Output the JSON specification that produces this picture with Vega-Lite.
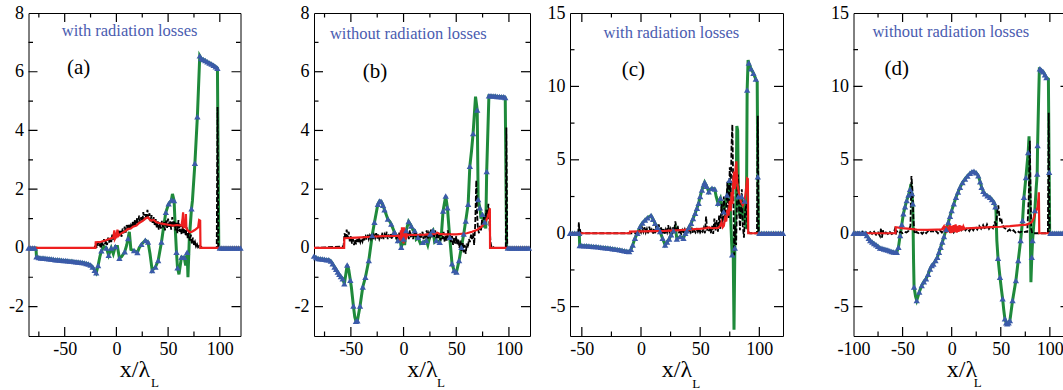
{
"$schema":"https://vega.github.io/schema/vega-lite/v6.json",
"background":"white",
"padding":{"left":7.5,"top":3,"right":0,"bottom":0},
"datasets":{
"tab_x":[{"v":-75,"m":0},{"v":-50,"m":1},{"v":-25,"m":0},{"v":0,"m":1},{"v":25,"m":0},{"v":50,"m":1},{"v":75,"m":0},{"v":100,"m":1}],
"tab_y":[{"v":-2,"m":1},{"v":-1,"m":0},{"v":0,"m":1},{"v":1,"m":0},{"v":2,"m":1},{"v":3,"m":0},{"v":4,"m":1},{"v":5,"m":0},{"v":6,"m":1},{"v":7,"m":0}],
"tc_x":[{"v":-50,"m":1},{"v":-25,"m":0},{"v":0,"m":1},{"v":25,"m":0},{"v":50,"m":1},{"v":75,"m":0},{"v":100,"m":1}],
"tcd_y":[{"v":-5,"m":1},{"v":-2.5,"m":0},{"v":0,"m":1},{"v":2.5,"m":0},{"v":5,"m":1},{"v":7.5,"m":0},{"v":10,"m":1},{"v":12.5,"m":0}],
"ag":[{"x":-85,"y":0,"t":1},{"x":-83,"y":0,"t":1},{"x":-81,"y":0,"t":1},{"x":-79,"y":0,"t":1},{"x":-77.8,"y":0,"t":0},{"x":-77.3,"y":-0.3,"t":1},{"x":-75,"y":-0.33,"t":1},{"x":-73,"y":-0.34,"t":1},{"x":-71,"y":-0.34,"t":1},{"x":-69,"y":-0.35,"t":1},{"x":-67,"y":-0.36,"t":1},{"x":-65,"y":-0.37,"t":1},{"x":-63,"y":-0.38,"t":1},{"x":-61,"y":-0.39,"t":1},{"x":-59,"y":-0.4,"t":1},{"x":-57,"y":-0.4,"t":1},{"x":-55,"y":-0.41,"t":1},{"x":-53,"y":-0.42,"t":1},{"x":-51,"y":-0.43,"t":1},{"x":-49,"y":-0.43,"t":1},{"x":-47,"y":-0.44,"t":1},{"x":-45,"y":-0.45,"t":1},{"x":-43,"y":-0.45,"t":1},{"x":-41,"y":-0.46,"t":1},{"x":-39,"y":-0.47,"t":1},{"x":-37,"y":-0.48,"t":1},{"x":-35,"y":-0.49,"t":1},{"x":-33,"y":-0.5,"t":1},{"x":-31,"y":-0.51,"t":1},{"x":-29,"y":-0.53,"t":1},{"x":-27,"y":-0.55,"t":1},{"x":-25,"y":-0.58,"t":1},{"x":-23,"y":-0.65,"t":1},{"x":-21,"y":-0.76,"t":1},{"x":-19.5,"y":-0.85,"t":1},{"x":-17.7,"y":-0.6,"t":1},{"x":-16,"y":-0.3,"t":0},{"x":-14.5,"y":-0.1,"t":1},{"x":-12,"y":0.05,"t":0},{"x":-9.7,"y":0,"t":1},{"x":-7.5,"y":-0.25,"t":1},{"x":-5,"y":0,"t":1},{"x":-3,"y":-0.2,"t":0},{"x":-1,"y":0.05,"t":1},{"x":1,"y":0.05,"t":0},{"x":2.9,"y":-0.35,"t":1},{"x":5,"y":-0.3,"t":0},{"x":8.1,"y":-0.13,"t":1},{"x":10,"y":0.1,"t":0},{"x":11.3,"y":0.32,"t":1},{"x":12.5,"y":0.55,"t":0},{"x":14,"y":-0.05,"t":0},{"x":17.1,"y":-0.09,"t":1},{"x":20.3,"y":-0.16,"t":1},{"x":22,"y":0,"t":0},{"x":24.2,"y":0.12,"t":1},{"x":28,"y":0.26,"t":1},{"x":30.6,"y":0.2,"t":1},{"x":32.5,"y":-0.2,"t":0},{"x":34.6,"y":-0.77,"t":1},{"x":37.8,"y":-0.65,"t":1},{"x":40.4,"y":-0.43,"t":1},{"x":43.6,"y":0.2,"t":1},{"x":46,"y":0.8,"t":0},{"x":47.8,"y":1.21,"t":1},{"x":50.5,"y":1.5,"t":1},{"x":53.2,"y":1.63,"t":1},{"x":54.2,"y":1.84,"t":0},{"x":55.8,"y":1.61,"t":1},{"x":57,"y":0.6,"t":0},{"x":58.1,"y":-0.15,"t":1},{"x":59.1,"y":-0.68,"t":1},{"x":60.5,"y":-0.9,"t":0},{"x":62.9,"y":-0.32,"t":1},{"x":65.5,"y":-0.32,"t":1},{"x":67,"y":-0.6,"t":0},{"x":68.4,"y":-0.15,"t":1},{"x":69.2,"y":-1.0,"t":0},{"x":70.5,"y":0.3,"t":0},{"x":72.6,"y":1.33,"t":1},{"x":73.5,"y":1.6,"t":0},{"x":75.9,"y":2.88,"t":1},{"x":78.3,"y":4.47,"t":1},{"x":80.6,"y":6.54,"t":1},{"x":82,"y":6.45,"t":1},{"x":84,"y":6.42,"t":1},{"x":86,"y":6.38,"t":1},{"x":88,"y":6.34,"t":1},{"x":90,"y":6.3,"t":1},{"x":92,"y":6.26,"t":1},{"x":94,"y":6.22,"t":1},{"x":96,"y":6.17,"t":1},{"x":97.7,"y":6.12,"t":1},{"x":99,"y":0,"t":0},{"x":100,"y":0,"t":1},{"x":102,"y":0,"t":1},{"x":104,"y":0,"t":1},{"x":106,"y":0,"t":1},{"x":108,"y":0,"t":1},{"x":110,"y":0,"t":1},{"x":112,"y":0,"t":1},{"x":114,"y":0,"t":1},{"x":116,"y":0,"t":1},{"x":118,"y":0,"t":1},{"x":120,"y":0,"t":1}],
"ak":[{"x":-85,"y":0},{"x":-22,"y":0},{"x":-21,"y":0.02},{"x":-20,"y":0.15},{"x":-19,"y":0},{"x":-18,"y":0.18},{"x":-17,"y":0.06},{"x":-16,"y":0.12},{"x":-15,"y":-0.02},{"x":-14,"y":0.22},{"x":-13,"y":0.08},{"x":-12,"y":0.3},{"x":-11,"y":0.12},{"x":-10,"y":0.25},{"x":-9,"y":0.1},{"x":-8,"y":0.35},{"x":-7,"y":0.18},{"x":-6,"y":0.32},{"x":-5,"y":0.2},{"x":-4,"y":0.45},{"x":-3,"y":0.28},{"x":-2,"y":0.5},{"x":-1,"y":0.3},{"x":0,"y":0.55},{"x":1,"y":0.36},{"x":2,"y":0.62},{"x":3,"y":0.4},{"x":4,"y":0.58},{"x":5,"y":0.38},{"x":6,"y":0.66},{"x":7,"y":0.5},{"x":8,"y":0.72},{"x":9,"y":0.52},{"x":10,"y":0.78},{"x":11,"y":0.6},{"x":12,"y":0.82},{"x":13,"y":0.62},{"x":14,"y":0.76},{"x":15,"y":0.66},{"x":16,"y":0.92},{"x":17,"y":0.72},{"x":18,"y":0.98},{"x":19,"y":0.78},{"x":20,"y":1.02},{"x":21,"y":0.84},{"x":22,"y":1.1},{"x":23,"y":0.88},{"x":24,"y":1.05},{"x":25,"y":0.9},{"x":26,"y":1.22},{"x":27,"y":0.95},{"x":28,"y":1.15},{"x":29,"y":0.98},{"x":30,"y":1.3},{"x":31,"y":1.0},{"x":32,"y":1.18},{"x":33,"y":0.9},{"x":34,"y":1.12},{"x":35,"y":0.85},{"x":36,"y":1.05},{"x":37,"y":0.78},{"x":38,"y":0.98},{"x":39,"y":0.7},{"x":40,"y":0.9},{"x":41,"y":0.62},{"x":42,"y":0.85},{"x":43,"y":0.66},{"x":44,"y":0.92},{"x":45,"y":0.7},{"x":46,"y":0.88},{"x":47,"y":0.6},{"x":48,"y":0.95},{"x":49,"y":0.68},{"x":50,"y":1.0},{"x":51,"y":0.72},{"x":52,"y":0.9},{"x":53,"y":0.62},{"x":54,"y":1.05},{"x":55,"y":0.7},{"x":56,"y":0.92},{"x":57,"y":0.6},{"x":58,"y":0.85},{"x":59,"y":0.5},{"x":60,"y":0.95},{"x":61,"y":0.55},{"x":62,"y":0.8},{"x":63,"y":0.45},{"x":64,"y":0.75},{"x":65,"y":0.5},{"x":66,"y":0.9},{"x":67,"y":0.4},{"x":68,"y":0.7},{"x":69,"y":0.3},{"x":70,"y":0.6},{"x":71,"y":0.25},{"x":72,"y":0.45},{"x":73,"y":0.15},{"x":74,"y":0.35},{"x":75,"y":0.1},{"x":76,"y":0.2},{"x":77,"y":0.05},{"x":78,"y":0.12},{"x":79,"y":0.02},{"x":80,"y":0.06},{"x":81,"y":0},{"x":82,"y":0.03},{"x":83,"y":0},{"x":97,"y":0},{"x":97.8,"y":4.8},{"x":98.6,"y":0},{"x":120,"y":0}],
"ar":[{"x":-85,"y":0},{"x":-20.2,"y":0},{"x":-20,"y":0.19},{"x":-15,"y":0.21},{"x":-10,"y":0.26},{"x":-6.5,"y":0.31},{"x":-3,"y":0.35},{"x":-2,"y":0.6},{"x":-1.5,"y":0.3},{"x":0,"y":0.4},{"x":1,"y":0.62},{"x":1.8,"y":0.4},{"x":4,"y":0.48},{"x":6.5,"y":0.53},{"x":9,"y":0.58},{"x":11.3,"y":0.65},{"x":14,"y":0.66},{"x":16,"y":0.72},{"x":19.4,"y":0.76},{"x":22,"y":0.85},{"x":25.8,"y":0.93},{"x":28,"y":1.0},{"x":30.6,"y":1.04},{"x":32,"y":0.97},{"x":33.9,"y":0.93},{"x":36,"y":0.95},{"x":38.7,"y":0.87},{"x":42,"y":0.84},{"x":45.2,"y":0.82},{"x":50,"y":0.79},{"x":54.8,"y":0.76},{"x":58,"y":0.78},{"x":62.9,"y":0.76},{"x":64,"y":1.0},{"x":64.5,"y":1.21},{"x":65,"y":0.7},{"x":66.5,"y":0.72},{"x":67.2,"y":1.15},{"x":67.7,"y":0.65},{"x":69,"y":0.6},{"x":71,"y":0.53},{"x":73,"y":0.55},{"x":75.8,"y":0.61},{"x":79,"y":0.7},{"x":80,"y":0.95},{"x":81,"y":0.93},{"x":81.3,"y":0},{"x":120,"y":0}],
"bg":[{"x":-85,"y":-0.28,"t":1},{"x":-83,"y":-0.33,"t":1},{"x":-81,"y":-0.36,"t":1},{"x":-79,"y":-0.37,"t":1},{"x":-77,"y":-0.38,"t":1},{"x":-75,"y":-0.39,"t":1},{"x":-73,"y":-0.4,"t":1},{"x":-71,"y":-0.4,"t":1},{"x":-69,"y":-0.45,"t":1},{"x":-67.3,"y":-0.54,"t":1},{"x":-65.5,"y":-0.65,"t":1},{"x":-64,"y":-0.73,"t":1},{"x":-62.5,"y":-0.82,"t":1},{"x":-61,"y":-0.9,"t":1},{"x":-59.5,"y":-0.97,"t":1},{"x":-57.8,"y":-1.05,"t":1},{"x":-56.2,"y":-1.22,"t":1},{"x":-54.8,"y":-0.9,"t":0},{"x":-53.5,"y":-0.58,"t":1},{"x":-52,"y":-0.75,"t":0},{"x":-50.5,"y":-1.1,"t":1},{"x":-49.5,"y":-1.35,"t":0},{"x":-47.6,"y":-1.98,"t":1},{"x":-46.3,"y":-2.35,"t":0},{"x":-45.2,"y":-2.5,"t":1},{"x":-43.8,"y":-2.48,"t":1},{"x":-41.3,"y":-1.98,"t":1},{"x":-38.7,"y":-1.33,"t":1},{"x":-36.2,"y":-1.0,"t":1},{"x":-33,"y":-0.43,"t":1},{"x":-31,"y":0.1,"t":0},{"x":-29.8,"y":0.42,"t":1},{"x":-27.6,"y":0.87,"t":1},{"x":-24.4,"y":1.49,"t":1},{"x":-22.7,"y":1.6,"t":1},{"x":-21.2,"y":1.58,"t":1},{"x":-19.5,"y":1.45,"t":1},{"x":-18.1,"y":1.3,"t":1},{"x":-14.9,"y":0.98,"t":1},{"x":-13,"y":0.9,"t":0},{"x":-11.7,"y":0.81,"t":1},{"x":-8.6,"y":0.53,"t":1},{"x":-5.4,"y":0.25,"t":1},{"x":-3.5,"y":0.35,"t":0},{"x":-2.2,"y":0.02,"t":1},{"x":0,"y":0.3,"t":1},{"x":1,"y":0.1,"t":0},{"x":2.5,"y":0.59,"t":1},{"x":4.8,"y":0.9,"t":1},{"x":7.3,"y":0.75,"t":1},{"x":9,"y":0.6,"t":0},{"x":10.5,"y":0.59,"t":1},{"x":12,"y":0.3,"t":0},{"x":13.7,"y":0.36,"t":1},{"x":16,"y":0.15,"t":0},{"x":18.4,"y":0.19,"t":1},{"x":21.6,"y":0.25,"t":1},{"x":23,"y":0.1,"t":0},{"x":25.4,"y":0.47,"t":1},{"x":27.9,"y":0.59,"t":1},{"x":29.5,"y":0.2,"t":0},{"x":31.1,"y":0.25,"t":1},{"x":34.3,"y":0.19,"t":1},{"x":36,"y":0.5,"t":0},{"x":37.5,"y":1.26,"t":1},{"x":40,"y":1.77,"t":1},{"x":41.6,"y":1.37,"t":1},{"x":43.8,"y":0.36,"t":1},{"x":46,"y":-0.54,"t":1},{"x":47.9,"y":-0.77,"t":1},{"x":49,"y":-0.85,"t":0},{"x":50.2,"y":-0.82,"t":1},{"x":52.7,"y":-0.43,"t":1},{"x":54.9,"y":0.02,"t":1},{"x":57.1,"y":0.47,"t":1},{"x":59,"y":0.92,"t":1},{"x":61.3,"y":1.49,"t":1},{"x":62.9,"y":2.78,"t":1},{"x":64.5,"y":3.3,"t":0},{"x":66,"y":3.9,"t":1},{"x":68.3,"y":5.15,"t":0},{"x":69.9,"y":4.7,"t":1},{"x":70.8,"y":1.65,"t":1},{"x":72.4,"y":1.37,"t":1},{"x":73.5,"y":1.0,"t":0},{"x":74.9,"y":1.15,"t":1},{"x":76,"y":0.7,"t":0},{"x":77.1,"y":0.88,"t":1},{"x":78,"y":0.66,"t":0},{"x":78.9,"y":2.6,"t":1},{"x":81,"y":5.18,"t":1},{"x":83,"y":5.18,"t":1},{"x":85,"y":5.17,"t":1},{"x":87,"y":5.17,"t":1},{"x":89,"y":5.16,"t":1},{"x":91,"y":5.16,"t":1},{"x":93,"y":5.15,"t":1},{"x":95,"y":5.15,"t":1},{"x":96.5,"y":5.12,"t":1},{"x":97.8,"y":0,"t":0},{"x":99,"y":0,"t":1},{"x":101,"y":0,"t":1},{"x":103,"y":0,"t":1},{"x":105,"y":0,"t":1},{"x":107,"y":0,"t":1},{"x":109,"y":0,"t":1},{"x":111,"y":0,"t":1},{"x":113,"y":0,"t":1},{"x":115,"y":0,"t":1},{"x":117,"y":0,"t":1},{"x":119,"y":0,"t":1}],
"bk":[{"x":-85,"y":0},{"x":-57,"y":0.05},{"x":-56,"y":0.5},{"x":-55,"y":0.3},{"x":-54,"y":0.62},{"x":-53,"y":0.35},{"x":-52,"y":0.55},{"x":-51,"y":0.2},{"x":-50,"y":0.4},{"x":-49,"y":0.15},{"x":-48,"y":0.3},{"x":-47,"y":0.1},{"x":-46,"y":0.28},{"x":-45,"y":0.12},{"x":-44,"y":0.3},{"x":-43,"y":0.18},{"x":-42,"y":0.35},{"x":-41,"y":0.2},{"x":-40,"y":0.32},{"x":-39,"y":0.22},{"x":-38,"y":0.4},{"x":-37,"y":0.25},{"x":-36,"y":0.38},{"x":-35,"y":0.28},{"x":-34,"y":0.45},{"x":-33,"y":0.3},{"x":-32,"y":0.42},{"x":-31,"y":0.32},{"x":-30,"y":0.48},{"x":-29,"y":0.3},{"x":-28,"y":0.44},{"x":-27,"y":0.34},{"x":-26,"y":0.5},{"x":-25,"y":0.32},{"x":-24,"y":0.46},{"x":-23,"y":0.3},{"x":-22,"y":0.4},{"x":-21,"y":0.36},{"x":-20,"y":0.52},{"x":-19,"y":0.3},{"x":-18,"y":0.45},{"x":-17,"y":0.35},{"x":-16,"y":0.55},{"x":-15,"y":0.3},{"x":-14,"y":0.42},{"x":-13,"y":0.38},{"x":-12,"y":0.5},{"x":-11,"y":0.3},{"x":-10,"y":0.45},{"x":-9,"y":0.35},{"x":-8,"y":0.58},{"x":-7,"y":0.3},{"x":-6,"y":0.48},{"x":-5,"y":0.32},{"x":-4,"y":0.52},{"x":-3,"y":0.28},{"x":-2,"y":0.45},{"x":-1,"y":0.3},{"x":0,"y":0.5},{"x":1,"y":0.32},{"x":2,"y":0.55},{"x":3,"y":0.38},{"x":4,"y":0.5},{"x":5,"y":0.3},{"x":6,"y":0.6},{"x":7,"y":0.35},{"x":8,"y":0.48},{"x":9,"y":0.3},{"x":10,"y":0.55},{"x":11,"y":0.36},{"x":12,"y":0.5},{"x":13,"y":0.3},{"x":14,"y":0.45},{"x":15,"y":0.28},{"x":16,"y":0.5},{"x":17,"y":0.35},{"x":18,"y":0.55},{"x":19,"y":0.3},{"x":20,"y":0.46},{"x":21,"y":0.38},{"x":22,"y":0.6},{"x":23,"y":0.32},{"x":24,"y":0.5},{"x":25,"y":0.4},{"x":26,"y":0.62},{"x":27,"y":0.35},{"x":28,"y":0.52},{"x":29,"y":0.38},{"x":30,"y":0.6},{"x":31,"y":0.32},{"x":32,"y":0.5},{"x":33,"y":0.3},{"x":34,"y":0.45},{"x":35,"y":0.25},{"x":36,"y":0.5},{"x":37,"y":0.3},{"x":38,"y":0.55},{"x":39,"y":0.2},{"x":40,"y":0.45},{"x":41,"y":0.25},{"x":42,"y":0.6},{"x":43,"y":0.3},{"x":44,"y":0.5},{"x":45,"y":0.2},{"x":46,"y":0.4},{"x":47,"y":0.1},{"x":48,"y":0.35},{"x":49,"y":0.15},{"x":50,"y":0.4},{"x":51,"y":0.1},{"x":52,"y":0.3},{"x":53,"y":0},{"x":54,"y":0.25},{"x":55,"y":-0.1},{"x":56,"y":0.2},{"x":57,"y":-0.15},{"x":58,"y":0.1},{"x":59,"y":-0.2},{"x":60,"y":0.15},{"x":61,"y":0},{"x":62,"y":0.3},{"x":63,"y":0.2},{"x":64,"y":0.45},{"x":65,"y":0.3},{"x":66,"y":0.5},{"x":67,"y":0.1},{"x":68,"y":0.8},{"x":69,"y":2.3},{"x":69.8,"y":1.2},{"x":70.5,"y":0.7},{"x":71.5,"y":0.5},{"x":72.5,"y":0.75},{"x":73.5,"y":0.6},{"x":74.5,"y":0.95},{"x":75.5,"y":0.8},{"x":76.5,"y":1.1},{"x":77.5,"y":0.9},{"x":78.5,"y":1.3},{"x":79.5,"y":1.0},{"x":80.5,"y":1.5},{"x":81.5,"y":0.8},{"x":82.5,"y":0.2},{"x":83.5,"y":0.02},{"x":84.5,"y":0.05},{"x":86,"y":0},{"x":97,"y":0},{"x":97.6,"y":4.1},{"x":98.4,"y":0},{"x":120,"y":0}],
"br":[{"x":-85,"y":0},{"x":-56.4,"y":0},{"x":-56.2,"y":0.33},{"x":-50,"y":0.34},{"x":-40,"y":0.36},{"x":-30,"y":0.38},{"x":-20,"y":0.4},{"x":-10,"y":0.41},{"x":-5,"y":0.42},{"x":-3,"y":0.25},{"x":-2.5,"y":0.6},{"x":-2,"y":0.3},{"x":-1.5,"y":0.7},{"x":-1,"y":0.2},{"x":-0.5,"y":0.65},{"x":0,"y":0.15},{"x":0.5,"y":0.7},{"x":1,"y":0.25},{"x":1.5,"y":0.6},{"x":2,"y":0.3},{"x":2.5,"y":0.55},{"x":3,"y":0.38},{"x":4,"y":0.45},{"x":10,"y":0.44},{"x":20,"y":0.45},{"x":30,"y":0.48},{"x":32,"y":0.52},{"x":34,"y":0.48},{"x":40,"y":0.46},{"x":50,"y":0.46},{"x":60,"y":0.5},{"x":65,"y":0.55},{"x":70,"y":0.62},{"x":74,"y":0.72},{"x":77,"y":0.85},{"x":79.5,"y":1.02},{"x":81,"y":1.2},{"x":81.9,"y":1.35},{"x":82.1,"y":0},{"x":120,"y":0}],
"cg":[{"x":-60,"y":0,"t":1},{"x":-58,"y":0,"t":1},{"x":-56,"y":0,"t":1},{"x":-54,"y":0,"t":1},{"x":-52.2,"y":0,"t":1},{"x":-51.8,"y":-0.84,"t":1},{"x":-50,"y":-0.84,"t":1},{"x":-48,"y":-0.85,"t":1},{"x":-46,"y":-0.86,"t":1},{"x":-44,"y":-0.87,"t":1},{"x":-42,"y":-0.88,"t":1},{"x":-40,"y":-0.9,"t":1},{"x":-38,"y":-0.91,"t":1},{"x":-36,"y":-0.93,"t":1},{"x":-34,"y":-0.95,"t":1},{"x":-32,"y":-0.97,"t":1},{"x":-30,"y":-0.99,"t":1},{"x":-28,"y":-1.01,"t":1},{"x":-26,"y":-1.03,"t":1},{"x":-24,"y":-1.05,"t":1},{"x":-22,"y":-1.07,"t":1},{"x":-20,"y":-1.1,"t":1},{"x":-18,"y":-1.13,"t":1},{"x":-16,"y":-1.16,"t":1},{"x":-14,"y":-1.2,"t":1},{"x":-12,"y":-1.22,"t":1},{"x":-10,"y":-1.24,"t":1},{"x":-8.5,"y":-1.1,"t":1},{"x":-7,"y":-0.8,"t":1},{"x":-5.1,"y":-0.34,"t":1},{"x":-3,"y":0,"t":1},{"x":-0.8,"y":0.45,"t":1},{"x":1.2,"y":0.7,"t":1},{"x":3.4,"y":0.9,"t":1},{"x":5.5,"y":1.05,"t":1},{"x":8.5,"y":1.2,"t":1},{"x":10.2,"y":0.95,"t":1},{"x":11.9,"y":0.68,"t":1},{"x":14,"y":0.4,"t":1},{"x":16.1,"y":0.11,"t":1},{"x":18.2,"y":-0.35,"t":1},{"x":20.4,"y":-0.8,"t":1},{"x":22,"y":-0.6,"t":1},{"x":23.8,"y":-0.39,"t":1},{"x":25.5,"y":-0.1,"t":1},{"x":27.4,"y":0.16,"t":1},{"x":29,"y":0.4,"t":0},{"x":30.3,"y":-0.39,"t":1},{"x":33.1,"y":-0.23,"t":1},{"x":35.9,"y":-0.34,"t":1},{"x":37.5,"y":0,"t":1},{"x":38.8,"y":0.16,"t":1},{"x":40.5,"y":0.4,"t":1},{"x":42.4,"y":0.68,"t":1},{"x":44,"y":1.0,"t":1},{"x":45.8,"y":1.36,"t":1},{"x":47.3,"y":1.7,"t":1},{"x":48.7,"y":2.04,"t":1},{"x":50,"y":2.5,"t":1},{"x":51.5,"y":2.95,"t":1},{"x":53,"y":3.3,"t":1},{"x":53.8,"y":3.47,"t":1},{"x":55.5,"y":3.2,"t":1},{"x":57.2,"y":2.83,"t":1},{"x":58.5,"y":3.0,"t":0},{"x":60,"y":3.06,"t":1},{"x":62.3,"y":3.02,"t":1},{"x":63.5,"y":2.5,"t":0},{"x":65.1,"y":2.04,"t":1},{"x":67.1,"y":2.38,"t":1},{"x":68.5,"y":1.8,"t":0},{"x":69.9,"y":1.47,"t":1},{"x":71,"y":2.0,"t":0},{"x":72.7,"y":2.6,"t":1},{"x":74.7,"y":3.6,"t":1},{"x":75.8,"y":1.0,"t":0},{"x":77,"y":-1.47,"t":1},{"x":77.8,"y":-0.3,"t":0},{"x":78.6,"y":-6.57,"t":0},{"x":79.3,"y":-1.0,"t":1},{"x":80.3,"y":2.0,"t":0},{"x":81,"y":7.3,"t":0},{"x":81.7,"y":7.0,"t":0},{"x":82.3,"y":2.5,"t":1},{"x":83.5,"y":1.2,"t":0},{"x":85,"y":2.5,"t":1},{"x":86.3,"y":0.8,"t":0},{"x":87.5,"y":2.2,"t":1},{"x":88.6,"y":0.3,"t":0},{"x":89.3,"y":4,"t":0},{"x":89.7,"y":9.75,"t":1},{"x":90.5,"y":11.8,"t":0},{"x":91.1,"y":11.6,"t":1},{"x":93,"y":11.2,"t":1},{"x":95,"y":10.9,"t":1},{"x":97,"y":10.5,"t":1},{"x":98.2,"y":10.3,"t":0},{"x":98.7,"y":3.85,"t":1},{"x":99.3,"y":0,"t":0},{"x":100,"y":0,"t":1},{"x":102,"y":0,"t":1},{"x":104,"y":0,"t":1},{"x":106,"y":0,"t":1},{"x":108,"y":0,"t":1},{"x":110,"y":0,"t":1},{"x":112,"y":0,"t":1},{"x":114,"y":0,"t":1},{"x":116,"y":0,"t":1},{"x":118,"y":0,"t":1},{"x":120,"y":0,"t":1}],
"ck":[{"x":-60,"y":0},{"x":-53,"y":0.05},{"x":-52.5,"y":0.75},{"x":-52,"y":-0.2},{"x":-51.5,"y":0.3},{"x":-51,"y":0},{"x":-2,"y":0},{"x":-1,"y":0.2},{"x":0,"y":0.05},{"x":1,"y":0.35},{"x":2,"y":0.1},{"x":3,"y":0.4},{"x":4,"y":0.05},{"x":5,"y":0.3},{"x":6,"y":0},{"x":7,"y":0.45},{"x":8,"y":0.1},{"x":9,"y":0.25},{"x":10,"y":-0.05},{"x":11,"y":0.3},{"x":12,"y":0},{"x":13,"y":0.5},{"x":14,"y":0.1},{"x":15,"y":0.6},{"x":16,"y":0.05},{"x":17,"y":0.4},{"x":18,"y":0},{"x":19,"y":0.35},{"x":20,"y":-0.1},{"x":21,"y":0.25},{"x":22,"y":0.05},{"x":23,"y":0.55},{"x":24,"y":0.1},{"x":25,"y":0.3},{"x":26,"y":-0.05},{"x":27,"y":0.4},{"x":28,"y":0.15},{"x":29,"y":0.8},{"x":30,"y":0.2},{"x":31,"y":0.5},{"x":32,"y":0},{"x":33,"y":0.3},{"x":34,"y":-0.1},{"x":35,"y":0.2},{"x":36,"y":0},{"x":37,"y":0.25},{"x":38,"y":-0.05},{"x":39,"y":0.15},{"x":40,"y":0},{"x":41,"y":0.2},{"x":42,"y":0.05},{"x":43,"y":0.3},{"x":44,"y":0},{"x":45,"y":0.2},{"x":46,"y":0.05},{"x":47,"y":0.25},{"x":48,"y":0.1},{"x":49,"y":0.3},{"x":50,"y":0.05},{"x":51,"y":0.2},{"x":52,"y":0.1},{"x":53,"y":0.35},{"x":54,"y":0},{"x":55,"y":1.13},{"x":56,"y":0.2},{"x":57,"y":0.1},{"x":58,"y":0.3},{"x":59,"y":0},{"x":60,"y":0.5},{"x":61,"y":-0.05},{"x":62,"y":1.0},{"x":63,"y":0.2},{"x":64,"y":0.9},{"x":65,"y":0.1},{"x":66,"y":1.2},{"x":67,"y":0.3},{"x":68,"y":2.0},{"x":69,"y":0.5},{"x":70,"y":2.5},{"x":71,"y":0.8},{"x":72,"y":1.7},{"x":73,"y":3.5},{"x":74,"y":1.0},{"x":75,"y":4.5},{"x":75.8,"y":2.5},{"x":76.5,"y":6.0},{"x":77.2,"y":7.4},{"x":78,"y":3.0},{"x":78.8,"y":-1.5},{"x":79.6,"y":0.5},{"x":80.4,"y":-0.8},{"x":81.2,"y":2.5},{"x":82,"y":4.0},{"x":82.8,"y":2.0},{"x":83.6,"y":0.2},{"x":84.4,"y":1.5},{"x":85.2,"y":3.0},{"x":86,"y":0.5},{"x":87,"y":-0.3},{"x":88,"y":1.5},{"x":89,"y":2.0},{"x":90,"y":0.3},{"x":91,"y":0.05},{"x":92,"y":0},{"x":98,"y":0},{"x":98.7,"y":8.0},{"x":99.4,"y":0},{"x":120,"y":0}],
"cr":[{"x":-60,"y":0},{"x":-9.5,"y":0},{"x":-9.3,"y":0.11},{"x":0,"y":0.12},{"x":10,"y":0.14},{"x":20.4,"y":0.16},{"x":30,"y":0.2},{"x":40,"y":0.25},{"x":48.7,"y":0.29},{"x":55,"y":0.35},{"x":57.2,"y":0.39},{"x":60,"y":0.34},{"x":65,"y":0.36},{"x":67,"y":0.5},{"x":68,"y":0.75},{"x":69,"y":0.4},{"x":70,"y":0.5},{"x":71,"y":1.0},{"x":72,"y":0.8},{"x":73,"y":1.6},{"x":74,"y":1.2},{"x":75,"y":2.2},{"x":75.8,"y":1.5},{"x":76.6,"y":2.8},{"x":77.3,"y":2.0},{"x":78,"y":3.6},{"x":78.7,"y":4.2},{"x":79.3,"y":3.0},{"x":80,"y":4.5},{"x":80.6,"y":4.9},{"x":81.2,"y":3.5},{"x":82,"y":3.1},{"x":83,"y":2.6},{"x":84.5,"y":2.15},{"x":86,"y":1.9},{"x":87.5,"y":2.2},{"x":88.5,"y":2.8},{"x":89.7,"y":3.74},{"x":90.3,"y":3.7},{"x":90.6,"y":0},{"x":120,"y":0}],
"dg":[{"x":-100,"y":0,"t":1},{"x":-98,"y":0,"t":1},{"x":-96,"y":0,"t":1},{"x":-94,"y":0,"t":1},{"x":-92,"y":0,"t":1},{"x":-90,"y":0,"t":1},{"x":-88,"y":0,"t":1},{"x":-86.4,"y":-0.16,"t":1},{"x":-84.5,"y":-0.35,"t":1},{"x":-83,"y":-0.5,"t":1},{"x":-81,"y":-0.6,"t":1},{"x":-79,"y":-0.7,"t":1},{"x":-77,"y":-0.78,"t":1},{"x":-75,"y":-0.88,"t":1},{"x":-73,"y":-1.0,"t":1},{"x":-71,"y":-1.03,"t":1},{"x":-69,"y":-1.07,"t":1},{"x":-67,"y":-1.11,"t":1},{"x":-65,"y":-1.15,"t":1},{"x":-63,"y":-1.2,"t":1},{"x":-61,"y":-1.24,"t":1},{"x":-59,"y":-1.28,"t":1},{"x":-57,"y":-1.3,"t":1},{"x":-55.9,"y":-1.29,"t":1},{"x":-54.2,"y":-0.95,"t":1},{"x":-52.5,"y":-0.16,"t":1},{"x":-50.8,"y":0.6,"t":1},{"x":-49.2,"y":1.32,"t":1},{"x":-47.5,"y":1.8,"t":1},{"x":-45.8,"y":2.22,"t":1},{"x":-44,"y":2.6,"t":1},{"x":-42.4,"y":3.0,"t":1},{"x":-41.5,"y":3.36,"t":0},{"x":-40.5,"y":2.7,"t":1},{"x":-39.6,"y":2.0,"t":1},{"x":-38.8,"y":-2.0,"t":0},{"x":-38.3,"y":-3.67,"t":1},{"x":-36.8,"y":-4.3,"t":0},{"x":-35.6,"y":-4.58,"t":1},{"x":-33,"y":-4.0,"t":1},{"x":-30.5,"y":-3.56,"t":1},{"x":-28.3,"y":-3.3,"t":1},{"x":-26.1,"y":-3.1,"t":1},{"x":-24,"y":-2.8,"t":1},{"x":-22,"y":-2.43,"t":1},{"x":-20.3,"y":-2.2,"t":1},{"x":-18.6,"y":-2.09,"t":1},{"x":-16.5,"y":-1.85,"t":1},{"x":-14.6,"y":-1.63,"t":1},{"x":-12.9,"y":-1.3,"t":1},{"x":-11.2,"y":-0.95,"t":1},{"x":-9.5,"y":-0.6,"t":1},{"x":-7.8,"y":-0.23,"t":1},{"x":-5.6,"y":0.26,"t":1},{"x":-3.4,"y":0.75,"t":1},{"x":-1.7,"y":1.15,"t":1},{"x":0,"y":1.54,"t":1},{"x":2.2,"y":2.0,"t":1},{"x":4.4,"y":2.45,"t":1},{"x":6.5,"y":2.8,"t":1},{"x":8.5,"y":3.13,"t":1},{"x":11,"y":3.45,"t":1},{"x":13.6,"y":3.7,"t":1},{"x":16,"y":3.9,"t":1},{"x":18.6,"y":4.08,"t":1},{"x":20.6,"y":4.18,"t":1},{"x":22.7,"y":4.22,"t":1},{"x":25,"y":4.12,"t":1},{"x":27.1,"y":3.92,"t":1},{"x":29,"y":3.5,"t":1},{"x":30.5,"y":3.13,"t":1},{"x":32.2,"y":2.85,"t":1},{"x":33.9,"y":2.68,"t":1},{"x":36.5,"y":2.55,"t":1},{"x":39,"y":2.45,"t":1},{"x":41,"y":2.3,"t":1},{"x":43.1,"y":2.11,"t":1},{"x":44.5,"y":1.8,"t":1},{"x":45.1,"y":1.54,"t":0},{"x":46,"y":-0.5,"t":0},{"x":47.2,"y":-1.7,"t":1},{"x":49.2,"y":-3.0,"t":1},{"x":50.6,"y":-3.8,"t":0},{"x":51.9,"y":-4.47,"t":1},{"x":53,"y":-5.2,"t":0},{"x":54.2,"y":-5.83,"t":1},{"x":55.5,"y":-6.1,"t":1},{"x":56.6,"y":-6.17,"t":1},{"x":58,"y":-6.1,"t":1},{"x":59.3,"y":-5.94,"t":1},{"x":60.6,"y":-5.3,"t":0},{"x":62,"y":-4.58,"t":1},{"x":63.7,"y":-3.9,"t":0},{"x":65.4,"y":-3.22,"t":1},{"x":67.8,"y":-1.86,"t":1},{"x":70.2,"y":-0.5,"t":1},{"x":72.2,"y":0.86,"t":1},{"x":73.6,"y":2.45,"t":1},{"x":75.6,"y":3.8,"t":1},{"x":77.9,"y":5.5,"t":1},{"x":78.8,"y":6.6,"t":0},{"x":79.6,"y":3.0,"t":0},{"x":80.7,"y":-3.33,"t":0},{"x":81.6,"y":-1.63,"t":1},{"x":82.4,"y":-0.5,"t":1},{"x":83.5,"y":0.5,"t":0},{"x":84.7,"y":1.54,"t":1},{"x":86,"y":3.0,"t":0},{"x":87.1,"y":4.04,"t":1},{"x":87.5,"y":5.97,"t":1},{"x":88.5,"y":9.0,"t":0},{"x":89.3,"y":11.2,"t":0},{"x":89.8,"y":11.2,"t":1},{"x":91.5,"y":11.1,"t":1},{"x":93.2,"y":11.0,"t":1},{"x":95,"y":10.8,"t":1},{"x":96.5,"y":10.6,"t":1},{"x":98.5,"y":10.5,"t":0},{"x":99.3,"y":4.15,"t":1},{"x":99.8,"y":0,"t":0},{"x":100.5,"y":0,"t":1},{"x":102.5,"y":0,"t":1},{"x":104.5,"y":0,"t":1},{"x":106.5,"y":0,"t":1},{"x":108.5,"y":0,"t":1},{"x":110.5,"y":0,"t":1},{"x":112.5,"y":0,"t":1},{"x":114.5,"y":0,"t":1},{"x":116.5,"y":0,"t":1},{"x":118.5,"y":0,"t":1},{"x":120,"y":0,"t":1}],
"dk":[{"x":-100,"y":0},{"x":-95,"y":0.05},{"x":-93,"y":-0.1},{"x":-91,"y":0.1},{"x":-89,"y":-0.05},{"x":-87,"y":0.05},{"x":-85,"y":-0.1},{"x":-83,"y":0.08},{"x":-81,"y":-0.05},{"x":-79,"y":0.1},{"x":-77,"y":-0.1},{"x":-75,"y":0.05},{"x":-73,"y":-0.2},{"x":-72,"y":0.35},{"x":-71,"y":-0.3},{"x":-70,"y":0.2},{"x":-69,"y":-0.1},{"x":-67,"y":0.05},{"x":-65,"y":-0.05},{"x":-63,"y":0.08},{"x":-61,"y":-0.05},{"x":-59,"y":0.05},{"x":-58,"y":0.25},{"x":-57,"y":-0.1},{"x":-56,"y":0.15},{"x":-54,"y":0},{"x":-52,"y":0.1},{"x":-50,"y":0},{"x":-48,"y":0.1},{"x":-46,"y":0.05},{"x":-44,"y":0.15},{"x":-42,"y":0.5},{"x":-41,"y":3.9},{"x":-40,"y":3.0},{"x":-39,"y":1.0},{"x":-38,"y":0.1},{"x":-37,"y":-0.05},{"x":-36,"y":0.1},{"x":-34,"y":0},{"x":-32,"y":0.1},{"x":-30,"y":-0.05},{"x":-28,"y":0.12},{"x":-26,"y":0},{"x":-24,"y":0.15},{"x":-22,"y":0.05},{"x":-20,"y":0.2},{"x":-18,"y":0.05},{"x":-16,"y":0.15},{"x":-14,"y":0},{"x":-12,"y":0.2},{"x":-10,"y":0.05},{"x":-8,"y":0.25},{"x":-6,"y":0.1},{"x":-4,"y":0.3},{"x":-2,"y":0.1},{"x":0,"y":0.25},{"x":2,"y":0.05},{"x":4,"y":0.3},{"x":6,"y":0.15},{"x":8,"y":0.35},{"x":10,"y":0.2},{"x":12,"y":0.4},{"x":14,"y":0.2},{"x":16,"y":0.35},{"x":18,"y":0.15},{"x":20,"y":0.4},{"x":22,"y":0.2},{"x":24,"y":0.45},{"x":26,"y":0.25},{"x":28,"y":0.5},{"x":30,"y":0.3},{"x":32,"y":0.55},{"x":34,"y":0.25},{"x":36,"y":0.6},{"x":38,"y":0.3},{"x":40,"y":0.5},{"x":42,"y":0.35},{"x":44,"y":0.8},{"x":45,"y":0.4},{"x":46.5,"y":1.5},{"x":47.5,"y":1.9},{"x":48.5,"y":1.2},{"x":49.5,"y":0.8},{"x":50.5,"y":1.0},{"x":51.5,"y":0.6},{"x":53,"y":0.4},{"x":55,"y":0.3},{"x":57,"y":0.15},{"x":59,"y":0.25},{"x":61,"y":0.1},{"x":63,"y":0.2},{"x":65,"y":0.05},{"x":67,"y":0.15},{"x":69,"y":0.05},{"x":71,"y":0.1},{"x":73,"y":0.05},{"x":75,"y":0.1},{"x":77,"y":0.1},{"x":78.5,"y":2.5},{"x":79.6,"y":6.3},{"x":80.3,"y":3.0},{"x":81,"y":0.3},{"x":82,"y":0},{"x":98,"y":0},{"x":98.8,"y":8.2},{"x":99.7,"y":0},{"x":120,"y":0}],
"dr":[{"x":-100,"y":0},{"x":-57.2,"y":0},{"x":-57,"y":0.41},{"x":-50,"y":0.35},{"x":-40,"y":0.28},{"x":-35.6,"y":0.25},{"x":-25,"y":0.23},{"x":-15,"y":0.25},{"x":-10,"y":0.26},{"x":-8,"y":0.45},{"x":-7,"y":0.1},{"x":-6,"y":0.5},{"x":-5,"y":0.05},{"x":-4,"y":0.45},{"x":-3,"y":0.1},{"x":-2,"y":0.55},{"x":-1,"y":0},{"x":0,"y":0.5},{"x":1,"y":0.05},{"x":2,"y":0.55},{"x":3,"y":0.1},{"x":4,"y":0.6},{"x":5,"y":0.05},{"x":6,"y":0.5},{"x":7,"y":0.1},{"x":8,"y":0.55},{"x":9,"y":0.15},{"x":10,"y":0.5},{"x":11,"y":0.2},{"x":12,"y":0.45},{"x":13,"y":0.3},{"x":15,"y":0.34},{"x":20,"y":0.35},{"x":30,"y":0.38},{"x":39,"y":0.41},{"x":50,"y":0.44},{"x":59.3,"y":0.48},{"x":70,"y":0.55},{"x":76.3,"y":0.59},{"x":80,"y":0.7},{"x":81.5,"y":0.75},{"x":83.5,"y":1.0},{"x":84.7,"y":1.3},{"x":86,"y":1.5},{"x":87.5,"y":1.77},{"x":88.5,"y":2.5},{"x":88.8,"y":2.79},{"x":89.2,"y":0},{"x":120,"y":0}]
},
"spacing":10.5,
"align":"none",
"hconcat":[
{"align":"none","spacing":45.5,"hconcat":[
{"width":212,"height":323,
"resolve":{"scale":{"x":"shared","y":"shared"},"axis":{"x":"independent","y":"independent"}},
"layer":[
{"data":{"name":"tab_x"},"mark":{"type":"tick","orient":"vertical","thickness":1.2,"clip":true,"color":"#000","opacity":1},"encoding":{"x":{"field":"v","type":"quantitative","scale":{"domain":[-85,120],"nice":false,"zero":false},"axis":null},"y":{"datum":-3,"type":"quantitative","scale":{"domain":[-3,8],"nice":false,"zero":false},"axis":null},"size":{"field":"m","type":"nominal","scale":{"domain":[0,1],"range":[9,18]},"legend":null}}},
{"data":{"name":"tab_x"},"mark":{"type":"tick","orient":"vertical","thickness":1.2,"clip":true,"color":"#000","opacity":1},"encoding":{"x":{"field":"v","type":"quantitative","scale":{"domain":[-85,120],"nice":false,"zero":false},"axis":null},"y":{"datum":8,"type":"quantitative","scale":{"domain":[-3,8],"nice":false,"zero":false},"axis":null},"size":{"field":"m","type":"nominal","scale":{"domain":[0,1],"range":[9,18]},"legend":null}}},
{"data":{"name":"tab_y"},"mark":{"type":"tick","orient":"horizontal","thickness":1.2,"clip":true,"color":"#000","opacity":1},"encoding":{"y":{"field":"v","type":"quantitative","scale":{"domain":[-3,8],"nice":false,"zero":false},"axis":null},"x":{"datum":-85,"type":"quantitative","scale":{"domain":[-85,120],"nice":false,"zero":false},"axis":null},"size":{"field":"m","type":"nominal","scale":{"domain":[0,1],"range":[9,18]},"legend":null}}},
{"data":{"name":"tab_y"},"mark":{"type":"tick","orient":"horizontal","thickness":1.2,"clip":true,"color":"#000","opacity":1},"encoding":{"y":{"field":"v","type":"quantitative","scale":{"domain":[-3,8],"nice":false,"zero":false},"axis":null},"x":{"datum":120,"type":"quantitative","scale":{"domain":[-85,120],"nice":false,"zero":false},"axis":null},"size":{"field":"m","type":"nominal","scale":{"domain":[0,1],"range":[9,18]},"legend":null}}},
{"data":{"name":"ag"},"mark":{"type":"line","color":"#1f8a3b","strokeWidth":3},
"encoding":{"x":{"field":"x","type":"quantitative","scale":{"domain":[-85,120],"nice":false,"zero":false},"axis":{"orient":"bottom","values":[-50,0,50,100],"ticks":false,"labelExpr":"'' + datum.value","title":"x/λ","titleBaseline":"alphabetic","titleY":40}},
"y":{"field":"y","type":"quantitative","scale":{"domain":[-3,8],"nice":false,"zero":false},"axis":{"orient":"left","values":[-2,0,2,4,6,8],"ticks":false,"labelExpr":"'' + datum.value","title":null}}}},
{"data":{"name":"ak"},"mark":{"type":"line","color":"#000","strokeWidth":1.8,"strokeDash":[5,2]},
"encoding":{"x":{"field":"x","type":"quantitative","scale":{"domain":[-85,120],"nice":false,"zero":false},"axis":null},
"y":{"field":"y","type":"quantitative","scale":{"domain":[-3,8],"nice":false,"zero":false},"axis":null}}},
{"data":{"name":"ar"},"mark":{"type":"line","color":"#ee1f1f","strokeWidth":2.2},
"encoding":{"x":{"field":"x","type":"quantitative","scale":{"domain":[-85,120],"nice":false,"zero":false},"axis":null},
"y":{"field":"y","type":"quantitative","scale":{"domain":[-3,8],"nice":false,"zero":false},"axis":null}}},
{"data":{"name":"ag"},"transform":[{"filter":"datum.t == 1"}],"mark":{"type":"point","shape":"triangle-up","filled":true,"size":40,"color":"#3b5ba9","opacity":1},
"encoding":{"x":{"field":"x","type":"quantitative","scale":{"domain":[-85,120],"nice":false,"zero":false},"axis":null},
"y":{"field":"y","type":"quantitative","scale":{"domain":[-3,8],"nice":false,"zero":false},"axis":null}}},
{"data":{"values":[{}]},"mark":{"type":"text","text":"(a)","font":"Liberation Serif","fontSize":21,"color":"#000"},
"encoding":{"x":{"datum":-36.6,"type":"quantitative","scale":{"domain":[-85,120],"nice":false,"zero":false},"axis":null},
"y":{"datum":6.14,"type":"quantitative","scale":{"domain":[-3,8],"nice":false,"zero":false},"axis":null}}},
{"data":{"values":[{}]},"mark":{"type":"text","text":"with radiation losses","font":"Liberation Serif","fontSize":16.5,"color":"#4a5cb0"},
"encoding":{"x":{"datum":12.8,"type":"quantitative","scale":{"domain":[-85,120],"nice":false,"zero":false},"axis":null},
"y":{"datum":7.38,"type":"quantitative","scale":{"domain":[-3,8],"nice":false,"zero":false},"axis":null}}},
{"data":{"values":[{}]},"mark":{"type":"text","text":"L","font":"Liberation Serif","fontSize":13,"baseline":"alphabetic","color":"#000"},
"encoding":{"x":{"datum":37.2,"type":"quantitative","scale":{"domain":[-85,120],"nice":false,"zero":false},"axis":null},
"y":{"datum":-4.75,"type":"quantitative","scale":{"domain":[-3,8],"nice":false,"zero":false},"axis":null}}}
]},
{"width":216,"height":323,
"resolve":{"scale":{"x":"shared","y":"shared"},"axis":{"x":"independent","y":"independent"}},
"layer":[
{"data":{"name":"tab_x"},"mark":{"type":"tick","orient":"vertical","thickness":1.2,"clip":true,"color":"#000","opacity":1},"encoding":{"x":{"field":"v","type":"quantitative","scale":{"domain":[-85,120],"nice":false,"zero":false},"axis":null},"y":{"datum":-3,"type":"quantitative","scale":{"domain":[-3,8],"nice":false,"zero":false},"axis":null},"size":{"field":"m","type":"nominal","scale":{"domain":[0,1],"range":[9,18]},"legend":null}}},
{"data":{"name":"tab_x"},"mark":{"type":"tick","orient":"vertical","thickness":1.2,"clip":true,"color":"#000","opacity":1},"encoding":{"x":{"field":"v","type":"quantitative","scale":{"domain":[-85,120],"nice":false,"zero":false},"axis":null},"y":{"datum":8,"type":"quantitative","scale":{"domain":[-3,8],"nice":false,"zero":false},"axis":null},"size":{"field":"m","type":"nominal","scale":{"domain":[0,1],"range":[9,18]},"legend":null}}},
{"data":{"name":"tab_y"},"mark":{"type":"tick","orient":"horizontal","thickness":1.2,"clip":true,"color":"#000","opacity":1},"encoding":{"y":{"field":"v","type":"quantitative","scale":{"domain":[-3,8],"nice":false,"zero":false},"axis":null},"x":{"datum":-85,"type":"quantitative","scale":{"domain":[-85,120],"nice":false,"zero":false},"axis":null},"size":{"field":"m","type":"nominal","scale":{"domain":[0,1],"range":[9,18]},"legend":null}}},
{"data":{"name":"tab_y"},"mark":{"type":"tick","orient":"horizontal","thickness":1.2,"clip":true,"color":"#000","opacity":1},"encoding":{"y":{"field":"v","type":"quantitative","scale":{"domain":[-3,8],"nice":false,"zero":false},"axis":null},"x":{"datum":120,"type":"quantitative","scale":{"domain":[-85,120],"nice":false,"zero":false},"axis":null},"size":{"field":"m","type":"nominal","scale":{"domain":[0,1],"range":[9,18]},"legend":null}}},
{"data":{"name":"bg"},"mark":{"type":"line","color":"#1f8a3b","strokeWidth":3},
"encoding":{"x":{"field":"x","type":"quantitative","scale":{"domain":[-85,120],"nice":false,"zero":false},"axis":{"orient":"bottom","values":[-50,0,50,100],"ticks":false,"labelExpr":"'' + datum.value","title":"x/λ","titleBaseline":"alphabetic","titleY":40}},
"y":{"field":"y","type":"quantitative","scale":{"domain":[-3,8],"nice":false,"zero":false},"axis":{"orient":"left","values":[-2,0,2,4,6,8],"ticks":false,"labelExpr":"'' + datum.value","title":null}}}},
{"data":{"name":"bk"},"mark":{"type":"line","color":"#000","strokeWidth":1.8,"strokeDash":[5,2]},
"encoding":{"x":{"field":"x","type":"quantitative","scale":{"domain":[-85,120],"nice":false,"zero":false},"axis":null},
"y":{"field":"y","type":"quantitative","scale":{"domain":[-3,8],"nice":false,"zero":false},"axis":null}}},
{"data":{"name":"br"},"mark":{"type":"line","color":"#ee1f1f","strokeWidth":2.2},
"encoding":{"x":{"field":"x","type":"quantitative","scale":{"domain":[-85,120],"nice":false,"zero":false},"axis":null},
"y":{"field":"y","type":"quantitative","scale":{"domain":[-3,8],"nice":false,"zero":false},"axis":null}}},
{"data":{"name":"bg"},"transform":[{"filter":"datum.t == 1"}],"mark":{"type":"point","shape":"triangle-up","filled":true,"size":40,"color":"#3b5ba9","opacity":1},
"encoding":{"x":{"field":"x","type":"quantitative","scale":{"domain":[-85,120],"nice":false,"zero":false},"axis":null},
"y":{"field":"y","type":"quantitative","scale":{"domain":[-3,8],"nice":false,"zero":false},"axis":null}}},
{"data":{"values":[{}]},"mark":{"type":"text","text":"(b)","font":"Liberation Serif","fontSize":21,"color":"#000"},
"encoding":{"x":{"datum":-27,"type":"quantitative","scale":{"domain":[-85,120],"nice":false,"zero":false},"axis":null},
"y":{"datum":5.99,"type":"quantitative","scale":{"domain":[-3,8],"nice":false,"zero":false},"axis":null}}},
{"data":{"values":[{}]},"mark":{"type":"text","text":"without radiation losses","font":"Liberation Serif","fontSize":16.5,"color":"#4a5cb0"},
"encoding":{"x":{"datum":4.5,"type":"quantitative","scale":{"domain":[-85,120],"nice":false,"zero":false},"axis":null},
"y":{"datum":7.28,"type":"quantitative","scale":{"domain":[-3,8],"nice":false,"zero":false},"axis":null}}},
{"data":{"values":[{}]},"mark":{"type":"text","text":"L","font":"Liberation Serif","fontSize":13,"baseline":"alphabetic","color":"#000"},
"encoding":{"x":{"datum":35.5,"type":"quantitative","scale":{"domain":[-85,120],"nice":false,"zero":false},"axis":null},
"y":{"datum":-4.72,"type":"quantitative","scale":{"domain":[-3,8],"nice":false,"zero":false},"axis":null}}}
]}
]},
{"align":"none","spacing":39.5,"hconcat":[
{"width":213,"height":323,
"resolve":{"scale":{"x":"shared","y":"shared"},"axis":{"x":"independent","y":"independent"}},
"layer":[
{"data":{"name":"tc_x"},"mark":{"type":"tick","orient":"vertical","thickness":1.2,"clip":true,"color":"#000","opacity":1},"encoding":{"x":{"field":"v","type":"quantitative","scale":{"domain":[-60,120],"nice":false,"zero":false},"axis":null},"y":{"datum":-7,"type":"quantitative","scale":{"domain":[-7,15],"nice":false,"zero":false},"axis":null},"size":{"field":"m","type":"nominal","scale":{"domain":[0,1],"range":[9,18]},"legend":null}}},
{"data":{"name":"tc_x"},"mark":{"type":"tick","orient":"vertical","thickness":1.2,"clip":true,"color":"#000","opacity":1},"encoding":{"x":{"field":"v","type":"quantitative","scale":{"domain":[-60,120],"nice":false,"zero":false},"axis":null},"y":{"datum":15,"type":"quantitative","scale":{"domain":[-7,15],"nice":false,"zero":false},"axis":null},"size":{"field":"m","type":"nominal","scale":{"domain":[0,1],"range":[9,18]},"legend":null}}},
{"data":{"name":"tcd_y"},"mark":{"type":"tick","orient":"horizontal","thickness":1.2,"clip":true,"color":"#000","opacity":1},"encoding":{"y":{"field":"v","type":"quantitative","scale":{"domain":[-7,15],"nice":false,"zero":false},"axis":null},"x":{"datum":-60,"type":"quantitative","scale":{"domain":[-60,120],"nice":false,"zero":false},"axis":null},"size":{"field":"m","type":"nominal","scale":{"domain":[0,1],"range":[9,18]},"legend":null}}},
{"data":{"name":"tcd_y"},"mark":{"type":"tick","orient":"horizontal","thickness":1.2,"clip":true,"color":"#000","opacity":1},"encoding":{"y":{"field":"v","type":"quantitative","scale":{"domain":[-7,15],"nice":false,"zero":false},"axis":null},"x":{"datum":120,"type":"quantitative","scale":{"domain":[-60,120],"nice":false,"zero":false},"axis":null},"size":{"field":"m","type":"nominal","scale":{"domain":[0,1],"range":[9,18]},"legend":null}}},
{"data":{"name":"cg"},"mark":{"type":"line","color":"#1f8a3b","strokeWidth":3},
"encoding":{"x":{"field":"x","type":"quantitative","scale":{"domain":[-60,120],"nice":false,"zero":false},"axis":{"orient":"bottom","values":[-50,0,50,100],"ticks":false,"labelExpr":"'' + datum.value","title":"x/λ","titleBaseline":"alphabetic","titleY":40}},
"y":{"field":"y","type":"quantitative","scale":{"domain":[-7,15],"nice":false,"zero":false},"axis":{"orient":"left","values":[-5,0,5,10,15],"ticks":false,"labelExpr":"'' + datum.value","title":null}}}},
{"data":{"name":"ck"},"mark":{"type":"line","color":"#000","strokeWidth":1.8,"strokeDash":[5,2]},
"encoding":{"x":{"field":"x","type":"quantitative","scale":{"domain":[-60,120],"nice":false,"zero":false},"axis":null},
"y":{"field":"y","type":"quantitative","scale":{"domain":[-7,15],"nice":false,"zero":false},"axis":null}}},
{"data":{"name":"cr"},"mark":{"type":"line","color":"#ee1f1f","strokeWidth":2.2},
"encoding":{"x":{"field":"x","type":"quantitative","scale":{"domain":[-60,120],"nice":false,"zero":false},"axis":null},
"y":{"field":"y","type":"quantitative","scale":{"domain":[-7,15],"nice":false,"zero":false},"axis":null}}},
{"data":{"name":"cg"},"transform":[{"filter":"datum.t == 1"}],"mark":{"type":"point","shape":"triangle-up","filled":true,"size":40,"color":"#3b5ba9","opacity":1},
"encoding":{"x":{"field":"x","type":"quantitative","scale":{"domain":[-60,120],"nice":false,"zero":false},"axis":null},
"y":{"field":"y","type":"quantitative","scale":{"domain":[-7,15],"nice":false,"zero":false},"axis":null}}},
{"data":{"values":[{}]},"mark":{"type":"text","text":"(c)","font":"Liberation Serif","fontSize":21,"color":"#000"},
"encoding":{"x":{"datum":-6.5,"type":"quantitative","scale":{"domain":[-60,120],"nice":false,"zero":false},"axis":null},
"y":{"datum":11.1,"type":"quantitative","scale":{"domain":[-7,15],"nice":false,"zero":false},"axis":null}}},
{"data":{"values":[{}]},"mark":{"type":"text","text":"with radiation losses","font":"Liberation Serif","fontSize":16.5,"color":"#4a5cb0"},
"encoding":{"x":{"datum":25.7,"type":"quantitative","scale":{"domain":[-60,120],"nice":false,"zero":false},"axis":null},
"y":{"datum":13.67,"type":"quantitative","scale":{"domain":[-7,15],"nice":false,"zero":false},"axis":null}}},
{"data":{"values":[{}]},"mark":{"type":"text","text":"L","font":"Liberation Serif","fontSize":13,"baseline":"alphabetic","color":"#000"},
"encoding":{"x":{"datum":46.6,"type":"quantitative","scale":{"domain":[-60,120],"nice":false,"zero":false},"axis":null},
"y":{"datum":-10.56,"type":"quantitative","scale":{"domain":[-7,15],"nice":false,"zero":false},"axis":null}}}
]},
{"width":216,"height":323,
"resolve":{"scale":{"x":"shared","y":"shared"},"axis":{"x":"independent","y":"independent"}},
"layer":[
{"data":{"name":"tab_x"},"mark":{"type":"tick","orient":"vertical","thickness":1.2,"clip":true,"color":"#000","opacity":1},"encoding":{"x":{"field":"v","type":"quantitative","scale":{"domain":[-100,120],"nice":false,"zero":false},"axis":null},"y":{"datum":-7,"type":"quantitative","scale":{"domain":[-7,15],"nice":false,"zero":false},"axis":null},"size":{"field":"m","type":"nominal","scale":{"domain":[0,1],"range":[9,18]},"legend":null}}},
{"data":{"name":"tab_x"},"mark":{"type":"tick","orient":"vertical","thickness":1.2,"clip":true,"color":"#000","opacity":1},"encoding":{"x":{"field":"v","type":"quantitative","scale":{"domain":[-100,120],"nice":false,"zero":false},"axis":null},"y":{"datum":15,"type":"quantitative","scale":{"domain":[-7,15],"nice":false,"zero":false},"axis":null},"size":{"field":"m","type":"nominal","scale":{"domain":[0,1],"range":[9,18]},"legend":null}}},
{"data":{"name":"tcd_y"},"mark":{"type":"tick","orient":"horizontal","thickness":1.2,"clip":true,"color":"#000","opacity":1},"encoding":{"y":{"field":"v","type":"quantitative","scale":{"domain":[-7,15],"nice":false,"zero":false},"axis":null},"x":{"datum":-100,"type":"quantitative","scale":{"domain":[-100,120],"nice":false,"zero":false},"axis":null},"size":{"field":"m","type":"nominal","scale":{"domain":[0,1],"range":[9,18]},"legend":null}}},
{"data":{"name":"tcd_y"},"mark":{"type":"tick","orient":"horizontal","thickness":1.2,"clip":true,"color":"#000","opacity":1},"encoding":{"y":{"field":"v","type":"quantitative","scale":{"domain":[-7,15],"nice":false,"zero":false},"axis":null},"x":{"datum":120,"type":"quantitative","scale":{"domain":[-100,120],"nice":false,"zero":false},"axis":null},"size":{"field":"m","type":"nominal","scale":{"domain":[0,1],"range":[9,18]},"legend":null}}},
{"data":{"name":"dg"},"mark":{"type":"line","color":"#1f8a3b","strokeWidth":3},
"encoding":{"x":{"field":"x","type":"quantitative","scale":{"domain":[-100,120],"nice":false,"zero":false},"axis":{"orient":"bottom","values":[-100,-50,0,50,100],"ticks":false,"labelExpr":"'' + datum.value","title":"x/λ","titleBaseline":"alphabetic","titleY":40}},
"y":{"field":"y","type":"quantitative","scale":{"domain":[-7,15],"nice":false,"zero":false},"axis":{"orient":"left","values":[-5,0,5,10,15],"ticks":false,"labelExpr":"'' + datum.value","title":null}}}},
{"data":{"name":"dk"},"mark":{"type":"line","color":"#000","strokeWidth":1.8,"strokeDash":[5,2]},
"encoding":{"x":{"field":"x","type":"quantitative","scale":{"domain":[-100,120],"nice":false,"zero":false},"axis":null},
"y":{"field":"y","type":"quantitative","scale":{"domain":[-7,15],"nice":false,"zero":false},"axis":null}}},
{"data":{"name":"dr"},"mark":{"type":"line","color":"#ee1f1f","strokeWidth":2.2},
"encoding":{"x":{"field":"x","type":"quantitative","scale":{"domain":[-100,120],"nice":false,"zero":false},"axis":null},
"y":{"field":"y","type":"quantitative","scale":{"domain":[-7,15],"nice":false,"zero":false},"axis":null}}},
{"data":{"name":"dg"},"transform":[{"filter":"datum.t == 1"}],"mark":{"type":"point","shape":"triangle-up","filled":true,"size":40,"color":"#3b5ba9","opacity":1},
"encoding":{"x":{"field":"x","type":"quantitative","scale":{"domain":[-100,120],"nice":false,"zero":false},"axis":null},
"y":{"field":"y","type":"quantitative","scale":{"domain":[-7,15],"nice":false,"zero":false},"axis":null}}},
{"data":{"values":[{}]},"mark":{"type":"text","text":"(d)","font":"Liberation Serif","fontSize":21,"color":"#000"},
"encoding":{"x":{"datum":-56,"type":"quantitative","scale":{"domain":[-100,120],"nice":false,"zero":false},"axis":null},
"y":{"datum":11.18,"type":"quantitative","scale":{"domain":[-7,15],"nice":false,"zero":false},"axis":null}}},
{"data":{"values":[{}]},"mark":{"type":"text","text":"without radiation losses","font":"Liberation Serif","fontSize":16.5,"color":"#4a5cb0"},
"encoding":{"x":{"datum":-0.9,"type":"quantitative","scale":{"domain":[-100,120],"nice":false,"zero":false},"axis":null},
"y":{"datum":13.72,"type":"quantitative","scale":{"domain":[-7,15],"nice":false,"zero":false},"axis":null}}},
{"data":{"values":[{}]},"mark":{"type":"text","text":"L","font":"Liberation Serif","fontSize":13,"baseline":"alphabetic","color":"#000"},
"encoding":{"x":{"datum":26.5,"type":"quantitative","scale":{"domain":[-100,120],"nice":false,"zero":false},"axis":null},
"y":{"datum":-10.5,"type":"quantitative","scale":{"domain":[-7,15],"nice":false,"zero":false},"axis":null}}}
]}
]}
],
"config":{
"view":{"stroke":"#000","strokeWidth":1},
"axis":{"domain":false,"grid":false,"labelFont":"Liberation Serif","labelFontSize":18,"labelColor":"#000","labelPadding":5,"labelFlush":false,"labelOverlap":false,"titleFont":"Liberation Serif","titleFontSize":24,"titleFontWeight":"normal","titleColor":"#000"},
"axisBottom":{"labelPadding":4}
}
}
